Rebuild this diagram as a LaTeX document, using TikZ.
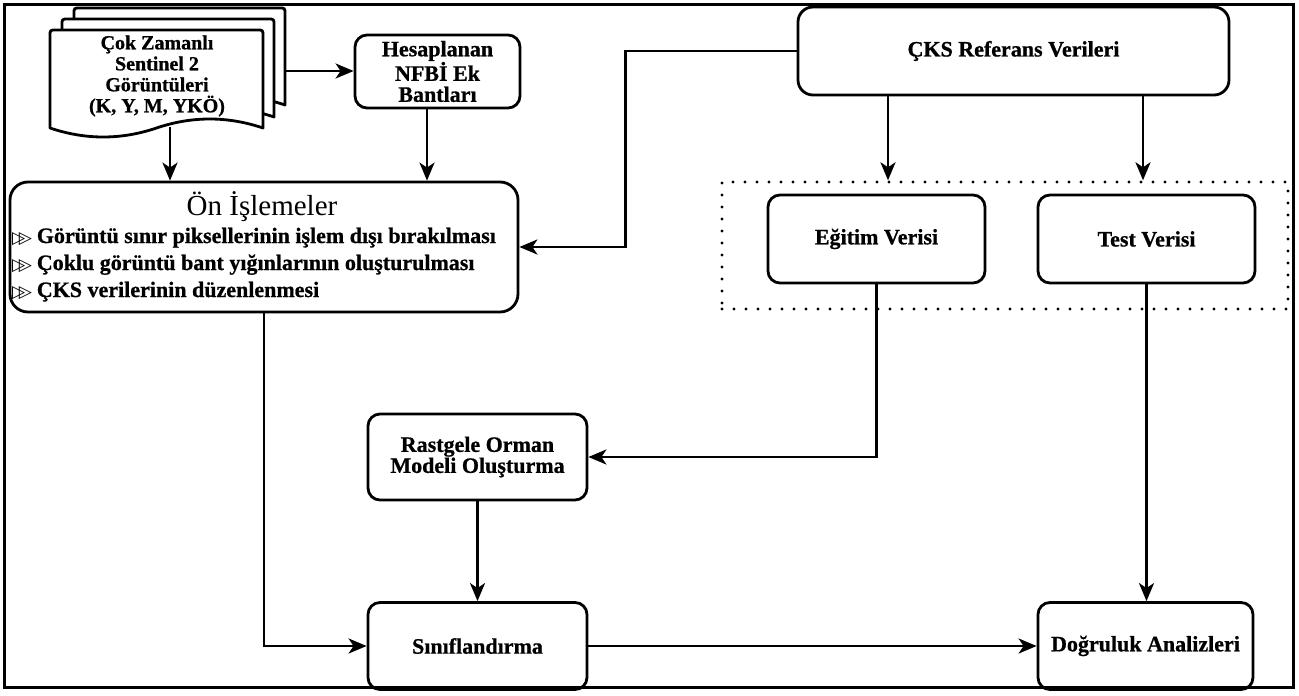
\documentclass[tikz,border=0pt]{standalone}
\usepackage{fontspec}
\setmainfont[BoldFeatures={FakeBold=0.8}]{Liberation Serif}
\newfontfamily\symfont{DejaVu Sans}
\usetikzlibrary{arrows.meta}
\newcommand{\bul}{\raisebox{0pt}{\symfont\fontsize{17}{17}\selectfont ▷\kern-6.5pt▷}}
\begin{document}
\begin{tikzpicture}[x=1pt,y=-1pt,
  box/.style={draw, line width=2.8pt, rounded corners=12pt, fill=white, inner sep=0pt,
    font=\bfseries\fontsize{22}{21}\selectfont, align=center},
  page/.style={draw, line width=2.8pt, fill=white, line join=round},
  arr/.style={line width=2.7pt, -{Stealth[length=18pt,width=15pt,inset=5pt]}},
  item/.style={anchor=base west, inner sep=0pt, font=\bfseries\fontsize{22}{22}\selectfont},
  grpbox/.style={draw, line width=3.4pt, dash pattern=on 0pt off 12pt, line cap=round, inner sep=0pt}
]
\useasboundingbox (0,0) rectangle (1299,696);

% document stack
\draw[page] (74,105) -- (74,14) .. controls (74,8) .. (80,8) -- (279,8) .. controls (285,8) .. (285,14) -- (285,105)
  .. controls (249.8,93) and (214.7,93) .. (179.5,105) .. controls (144.3,117) and (109.2,117) .. (74,105) -- cycle;
\draw[page] (62,117) -- (62,25) .. controls (62,19) .. (68,19) -- (268,19) .. controls (274,19) .. (274,25) -- (274,117)
  .. controls (238.7,105) and (203.3,105) .. (168,117) .. controls (132.7,129) and (97.3,129) .. (62,117) -- cycle;
\draw[page] (50,128) -- (50,36) .. controls (50,30) .. (56,30) -- (257,30) .. controls (263,30) .. (263,36) -- (263,128)
  .. controls (227.5,116) and (192,116) .. (156.5,128) .. controls (121,140) and (85.5,140) .. (50,128) -- cycle;
\node[font=\bfseries\fontsize{20}{21}\selectfont, align=center, inner sep=0pt] (doc) at (157,76)
  {Çok Zamanlı\\Sentinel 2\\Görüntüleri\\(K, Y, M, YKÖ)};
\coordinate (docR) at (285,71);
\coordinate (docB) at (170,127);

% boxes
\node[box, minimum width=165pt, minimum height=73pt] (hes) at (437.5,71.5) {Hesaplanan\\NFBİ Ek\\Bantları};
\node[box, rounded corners=18pt, minimum width=508pt, minimum height=130pt] (on) at (264,247) {};
\node[anchor=base, inner sep=0pt, font=\fontsize{29}{29}\selectfont] (ontitle) at (262,215) {Ön İşlemeler};
\node[item] (i1) at (12,243) {\bul\hspace{5pt}Görüntü sınır piksellerinin işlem dışı bırakılması};
\node[item] (i2) at (12,270) {\bul\hspace{5pt}Çoklu görüntü bant yığınlarının oluşturulması};
\node[item] (i3) at (12,297) {\bul\hspace{5pt}ÇKS verilerinin düzenlenmesi};

\node[box, rounded corners=15pt, minimum width=431pt, minimum height=88pt] (ckr) at (1013.5,51) {ÇKS Referans Verileri};
\node[grpbox, minimum width=566pt, minimum height=127pt] (grp) at (1005,245.5) {};
\node[box, minimum width=217pt, minimum height=88pt] (egt) at (876.5,239) {Eğitim Verisi};
\node[box, minimum width=217pt, minimum height=88pt] (tst) at (1146.5,239) {Test Verisi};
\node[box, minimum width=219pt, minimum height=86pt] (rf) at (477.5,457) {Rastgele Orman\\Modeli Oluşturma};
\node[box, minimum width=219pt, minimum height=87pt] (sin) at (477.5,646) {Sınıflandırma};
\node[box, minimum width=215pt, minimum height=87pt] (dog) at (1145.5,646) {Doğruluk Analizleri};

% connectors
\draw[arr] (docR) -- (docR -| hes.west);
\draw[arr] (docB) -- (docB |- on.north);
\draw[arr] ([xshift=-10.5pt]hes.south) -- ([xshift=-10.5pt]hes.south |- on.north);
\draw[arr] (ckr.west) -- ++(-171,0) |- (on.east);
\draw[arr] ([xshift=-125.5pt]ckr.south) -- ([xshift=-125.5pt]ckr.south |- grp.north);
\draw[arr] ([xshift=129.5pt]ckr.south) -- ([xshift=129.5pt]ckr.south |- grp.north);
\draw[arr] (egt.south) |- (rf.east);
\draw[arr] (tst.south) -- (tst.south |- dog.north);
\draw[arr] (rf.south) -- (sin.north);
\draw[arr] (on.south) |- (sin.west);
\draw[arr] (sin.east) -- (dog.west);

% outer frame
\draw[line width=3pt] (4,4) rectangle (1293,687);
\end{tikzpicture}
\end{document}
